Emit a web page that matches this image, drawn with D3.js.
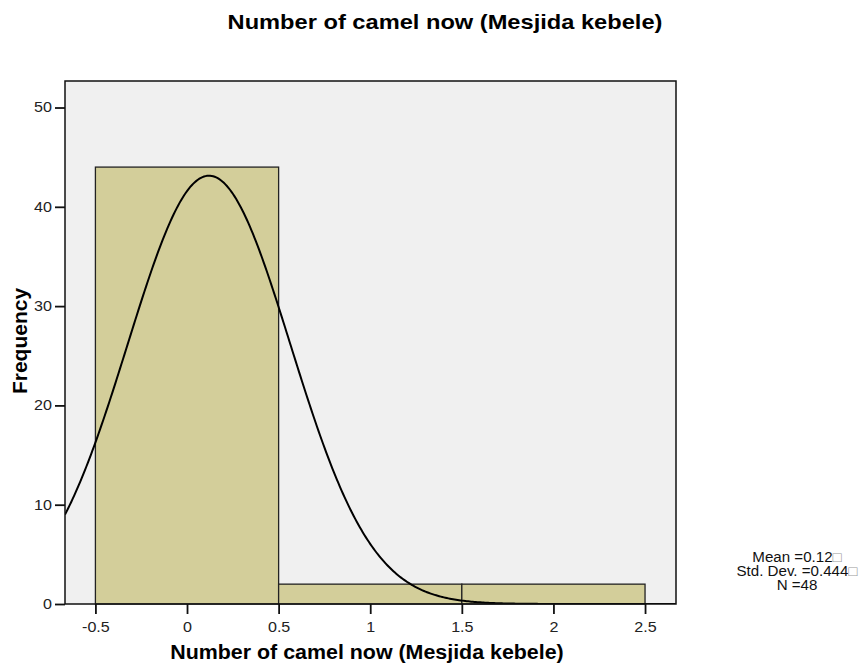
<!DOCTYPE html>
<html><head><meta charset="utf-8">
<script src="https://cdn.jsdelivr.net/npm/d3@7"></script>
<style>body{margin:0;background:#fff}svg{display:block}text{font-family:Arial,"Liberation Sans",sans-serif}</style>
</head><body>
<script>
const binStarts = [-0.5, 0.5, 1.5];
const binEnds = [0.5, 1.5, 2.5];
const frequencies = [44, 2, 2];
const xTicks = [-0.5, 0, 0.5, 1, 1.5, 2, 2.5];
const yTicks = [0, 10, 20, 30, 40, 50];
const stats = {mean: 0.12, sd: 0.444, n: 48};
const statLines = ["Mean =0.12", "Std. Dev. =0.444", "N =48"];
const statBoxes = [true, true, false];

const W = 862, H = 666;
const L = 65, R = 676, T = 81, B = 604;
const svg = d3.select("body").append("svg").attr("width", W).attr("height", H);
const x = d3.scaleLinear().domain([-0.666, 2.669]).range([L, R]);
const y = d3.scaleLinear().domain([0, 52.67]).range([B, T]);

svg.append("rect").attr("x", L).attr("y", T).attr("width", R - L).attr("height", B - T)
  .attr("fill", "#f0f0f0");
svg.append("clipPath").attr("id", "clip").append("rect")
  .attr("x", L).attr("y", T).attr("width", R - L).attr("height", B - T);

svg.selectAll("rect.bar").data(frequencies).enter().append("rect").attr("class", "bar")
  .attr("x", (d, i) => x(binStarts[i])).attr("width", (d, i) => x(binEnds[i]) - x(binStarts[i]))
  .attr("y", d => y(d)).attr("height", d => y(0) - y(d))
  .attr("fill", "#d3ce9a").attr("stroke", "#222").attr("stroke-width", 1.3);

const binW = 1;
const pts = d3.range(0, 401).map(i => {
  const v = -0.666 + i * (2.669 + 0.666) / 400;
  const f = stats.n * binW / (stats.sd * Math.sqrt(2 * Math.PI)) * Math.exp(-0.5 * ((v - stats.mean) / stats.sd) ** 2);
  return [v, f];
});
svg.append("path").datum(pts).attr("clip-path", "url(#clip)")
  .attr("d", d3.line().x(d => x(d[0])).y(d => y(d[1])))
  .attr("fill", "none").attr("stroke", "#000").attr("stroke-width", 2);

svg.append("rect").attr("x", L).attr("y", T).attr("width", R - L).attr("height", B - T)
  .attr("fill", "none").attr("stroke", "#111").attr("stroke-width", 1.5);

const SX = 1.15;
const xa = svg.append("g").attr("transform", `translate(0,${B})`)
  .call(d3.axisBottom(x).tickValues(xTicks).tickSize(10).tickPadding(8).tickFormat(d => String(d)));
const ya = svg.append("g").attr("transform", `translate(${L},0)`)
  .call(d3.axisLeft(y).tickValues(yTicks).tickSize(10).tickPadding(3).tickFormat(d => String(d)));
[xa, ya].forEach(a => {
  a.select(".domain").remove();
  a.selectAll("line").attr("stroke", "#111").attr("stroke-width", 1.8);
  a.selectAll("text").attr("font-size", 14).attr("fill", "#222")
    .style("font-family", "Arial,'Liberation Sans',sans-serif");
});
xa.selectAll("text").attr("transform", `scale(${SX},1)`);
ya.selectAll("text").attr("x", -13 / SX).attr("transform", `scale(${SX},1)`);

function stretched(xp, yp, sx, rot) {
  return svg.append("text").attr("transform", `translate(${xp},${yp})${rot ? " rotate(-90)" : ""} scale(${sx},1)`)
    .attr("text-anchor", "middle").attr("fill", "#000");
}
stretched(445, 29, 1.126).attr("font-size", 21).attr("font-weight", "bold")
  .text("Number of camel now (Mesjida kebele)");
stretched(367, 659, 1.07).attr("font-size", 20).attr("font-weight", "bold")
  .text("Number of camel now (Mesjida kebele)");
stretched(26.5, 341, 1.077, true).attr("font-size", 19.5).attr("font-weight", "bold")
  .text("Frequency");

statLines.forEach((s, i) => {
  const t = stretched(797, 562 + i * 13.8, 1.08).attr("font-size", 14).attr("fill", "#111");
  t.append("tspan").text(s);
  if (statBoxes[i]) t.append("tspan").attr("fill", "#999").attr("font-size", 14).text("\u25A1");
});
</script>
</body></html>
